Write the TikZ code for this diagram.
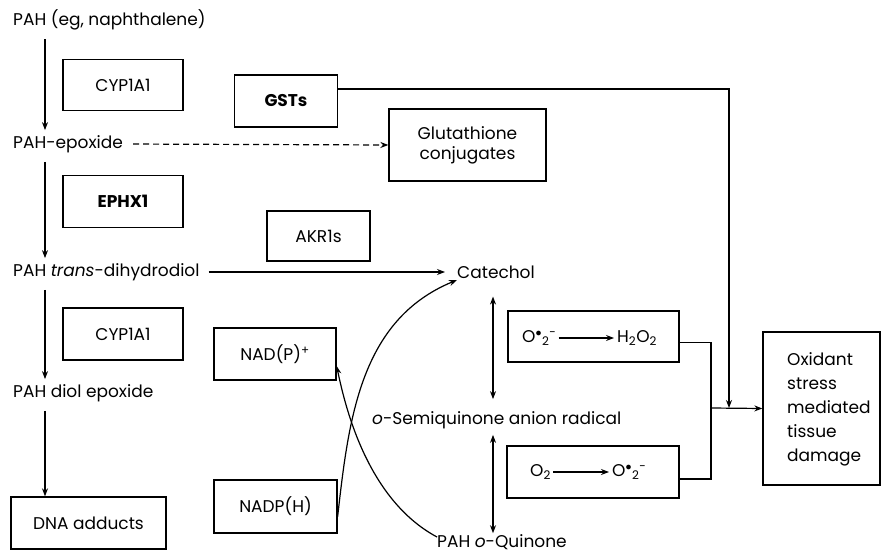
\documentclass[tikz,border=0pt]{standalone}
\usepackage{fontspec}
\setmainfont{Poppins}
\usetikzlibrary{arrows.meta}

\begin{document}
\begin{tikzpicture}[x=1pt,y=-1pt]
    \tikzset{every node/.style={font=\fontsize{17}{20}\selectfont},
             box/.style={draw,line width=1.3pt,inner sep=0pt,align=center},
             lbl/.style={anchor=west,inner sep=0pt},
             conn/.style={line width=1.2pt},
             >={Stealth[length=8pt,width=6pt]}}
    \useasboundingbox (0,0) rectangle (883,553);
    % left column
    \node[lbl] (pah)  at (13,20)  {PAH (eg, naphthalene)};
    \node[lbl] (epox) at (13,144) {PAH-epoxide};
    \node[lbl] (dhd)  at (13,272) {PAH \textit{trans}-dihydrodiol};
    \node[lbl] (dep)  at (13,393) {PAH diol epoxide};
    \node[box,minimum width=155,minimum height=52] (dna) at (88.5,523) {DNA adducts};
    \node[box,minimum width=120,minimum height=51] (cypa) at (123,85) {CYP1A1};
    \node[box,minimum width=120,minimum height=52] (ephx) at (123,201.5) {\textbf{EPHX1}};
    \node[box,minimum width=120,minimum height=52] (cypb) at (123,334) {CYP1A1};
    % middle
    \node[box,minimum width=103,minimum height=52] (gst)  at (286,101) {\textbf{GSTs}};
    \node[box,minimum width=157,minimum height=72] (glut) at (467.5,145) {Glutathione\\conjugates};
    \node[box,minimum width=103,minimum height=50] (akr)  at (318.5,236) {AKR1s};
    \node[box,minimum width=122,minimum height=52] (nadp) at (275,354) {NAD(P)\textsuperscript{+}};
    \node[box,minimum width=123,minimum height=53] (nadph) at (275.5,506.5) {NADP(H)};
    \node[lbl] (cat)  at (457,272) {Catechol};
    \node[lbl] (semi) at (372,420) {\textit{o}-Semiquinone anion radical};
    \node[lbl] (quin) at (437,542) {PAH \textit{o}-Quinone};
    % radicals
    \node[box,minimum width=171,minimum height=51] (oxa) at (593.5,336.5) {};
    \node[box,minimum width=172,minimum height=52] (oxb) at (593,472) {};
    \node[lbl] (supa) at (522,338) {O\textsuperscript{$\bullet$}\textsubscript{2}\textsuperscript{-}};
    \node[lbl] (hoh)  at (617,338) {H\textsubscript{2}O\textsubscript{2}};
    \node[lbl] (oxy)  at (530,472) {O\textsubscript{2}};
    \node[lbl] (supb) at (612,472) {O\textsuperscript{$\bullet$}\textsubscript{2}\textsuperscript{-}};
    \node[box,minimum width=117,minimum height=153] (dmg) at (821.5,408.5) {};
    \node[anchor=north west,align=left,inner sep=0pt,font=\fontsize{17}{24}\selectfont] (dmgt) at (787,352) {Oxidant\\stress\\mediated\\tissue\\damage};
    \coordinate (brk) at (711,408);
    \coordinate (gj) at (729,408);

    \draw[conn,->,shorten <=9pt,shorten >=5pt] ([xshift=32pt]pah.south west) -- ([xshift=32pt]epox.north west);
    \draw[conn,->,shorten <=9pt,shorten >=5pt] ([xshift=32pt]epox.south west) -- ([xshift=32pt]dhd.north west);
    \draw[conn,->,shorten <=9pt,shorten >=5pt] ([xshift=32pt]dhd.south west) -- ([xshift=32pt]dep.north west);
    \draw[conn,->,shorten <=9pt] ([xshift=32pt]dep.south west) -- ([xshift=32pt]dep.south west |- dna.north);
    \draw[conn,->,dashed,dash pattern=on 6pt off 4pt,shorten <=10pt] (epox.east) -- (glut.west);
    \draw[conn,->,shorten <=9pt,shorten >=12pt] (dhd.east) -- (cat.west);
    \draw[conn,->] ([yshift=-10pt]nadph.east) .. controls +(11,-97) and +(-97,40) .. ([yshift=-8pt]cat.west);
    \draw[conn,->] ([yshift=5pt]quin.west) .. controls +(-69,-37) and +(9,43) .. ([yshift=-12pt]nadp.east);
    \draw[conn,<->,shorten <=18pt,shorten >=12pt] ([xshift=-3pt]cat.south) -- ([xshift=-3pt]cat.south |- semi.north);
    \draw[conn,<->,shorten <=6pt,shorten >=1pt] ([xshift=-3pt]cat.south |- semi.south) -- ([xshift=-3pt]cat.south |- quin.north);
    \draw[conn,->,shorten <=2pt,shorten >=3pt] (supa) -- (hoh);
    \draw[conn,->,shorten <=2pt,shorten >=3pt] (oxy) -- (supb);
    \draw[conn] ([yshift=-6pt]oxa.east) -| (brk) |- ([yshift=-7pt]oxb.east);
    \draw[conn,->] (brk) -- (dmg.west);
    \draw[conn,->] ([yshift=12pt]gst.east) -| (gj);
\end{tikzpicture}
\end{document}
